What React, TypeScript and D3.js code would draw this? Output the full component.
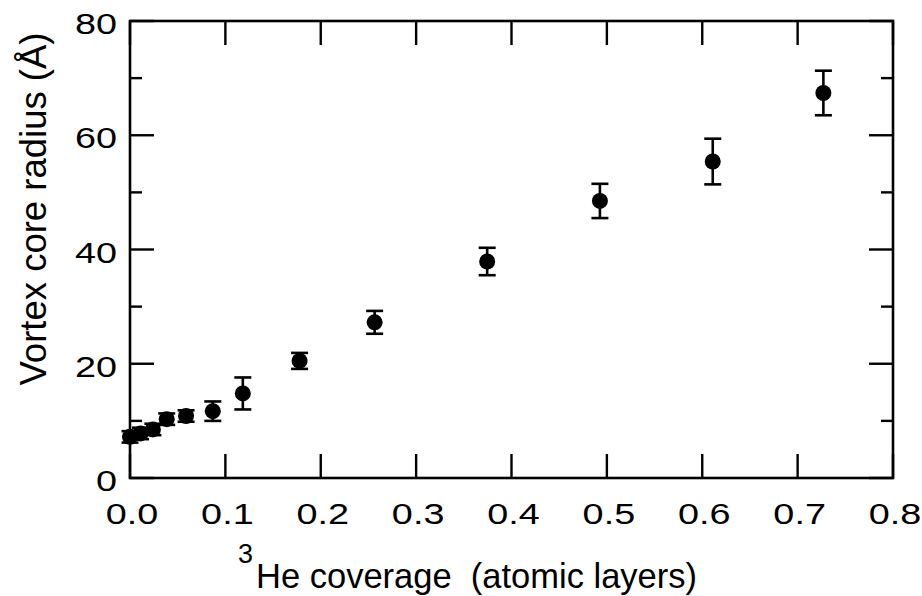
import React from "react";
import * as d3 from "d3";

// 3He coverage (atomic layers)
const coverage = [0.0, 0.011, 0.024, 0.0385, 0.0588, 0.0868, 0.1183, 0.1778, 0.2565, 0.3745, 0.4927, 0.611, 0.727];
// vortex core radius (Å)
const radius = [7.2, 7.8, 8.5, 10.3, 10.85, 11.7, 14.8, 20.5, 27.25, 37.9, 48.5, 55.4, 67.4];
// half-width of the error bars (Å)
const radiusErr = [1.0, 1.0, 1.0, 1.0, 1.0, 1.7, 2.8, 1.4, 2.0, 2.4, 3.0, 4.0, 3.9];

const xTicks = [0, 0.1, 0.2, 0.3, 0.4, 0.5, 0.6, 0.7, 0.8];
const yTicks = [0, 20, 40, 60, 80];
const yMinorTicks = [10, 30, 50, 70];

const W = 922;
const H = 596;
const margin = { top: 21, right: 29, bottom: 118, left: 130 };
const FONT = "'Liberation Sans', Arial, Helvetica, sans-serif";

export default function App() {
  const x = d3
    .scaleLinear()
    .domain([0, 0.8])
    .range([margin.left, W - margin.right]);
  const y = d3
    .scaleLinear()
    .domain([0, 80])
    .range([H - margin.bottom, margin.top]);

  const [x0, x1] = x.range();
  const [y0, y1] = y.range();
  const major = 24;
  const minor = 12;
  const cap = 8.5;

  return (
    <svg
      width={W}
      height={H}
      style={{ position: "absolute", left: 0, top: 0, background: "#fff" }}
      fontFamily={FONT}
    >
      {/* frame */}
      <rect
        x={x0}
        y={y1}
        width={x1 - x0}
        height={y0 - y1}
        fill="none"
        stroke="#000"
        strokeWidth={2.6}
      />

      {/* ticks on all four sides, pointing inward */}
      <g stroke="#000" strokeWidth={2.4}>
        {xTicks.map((t) => (
          <g key={"xt" + t}>
            <line x1={x(t)} x2={x(t)} y1={y0} y2={y0 - major} />
            <line x1={x(t)} x2={x(t)} y1={y1} y2={y1 + major} />
          </g>
        ))}
        {yTicks.map((t) => (
          <g key={"yt" + t}>
            <line x1={x0} x2={x0 + major} y1={y(t)} y2={y(t)} />
            <line x1={x1} x2={x1 - major} y1={y(t)} y2={y(t)} />
          </g>
        ))}
        {yMinorTicks.map((t) => (
          <g key={"ym" + t}>
            <line x1={x0} x2={x0 + minor} y1={y(t)} y2={y(t)} />
            <line x1={x1} x2={x1 - minor} y1={y(t)} y2={y(t)} />
          </g>
        ))}
      </g>

      {/* tick labels */}
      <g fontSize={30} fill="#000">
        {xTicks.map((t) => (
          <text
            key={"xl" + t}
            textAnchor="middle"
            transform={`translate(${x(t) + 2},${y0 + 46}) scale(1.26,1)`}
          >
            {d3.format(".1f")(t)}
          </text>
        ))}
        {yTicks.map((t) => (
          <text
            key={"yl" + t}
            textAnchor="end"
            transform={`translate(117,${y(t) + 13}) scale(1.26,1)`}
          >
            {t}
          </text>
        ))}
      </g>

      {/* axis titles */}
      <text
        transform="translate(46,209) rotate(-90)"
        textAnchor="middle"
        fontSize={36.5}
        fill="#000"
      >
        Vortex core radius (Å)
      </text>
      <text x={238} y={588} fontSize={34.5} fill="#000" style={{ whiteSpace: "pre" }}>
        <tspan fontSize={27} dy={-25}>
          3
        </tspan>
        <tspan dy={25} dx={3}>
          He coverage  (atomic layers)
        </tspan>
      </text>

      {/* data with error bars */}
      <g stroke="#000" strokeWidth={2.6} fill="#000">
        {coverage.map((c, i) => {
          const cx = x(c);
          const top = y(radius[i] + radiusErr[i]);
          const bot = y(radius[i] - radiusErr[i]);
          return (
            <g key={"p" + i}>
              <line x1={cx} x2={cx} y1={top} y2={bot} />
              <line x1={cx - cap} x2={cx + cap} y1={top} y2={top} />
              <line x1={cx - cap} x2={cx + cap} y1={bot} y2={bot} />
              <circle cx={cx} cy={y(radius[i])} r={8} stroke="none" />
            </g>
          );
        })}
      </g>
    </svg>
  );
}
